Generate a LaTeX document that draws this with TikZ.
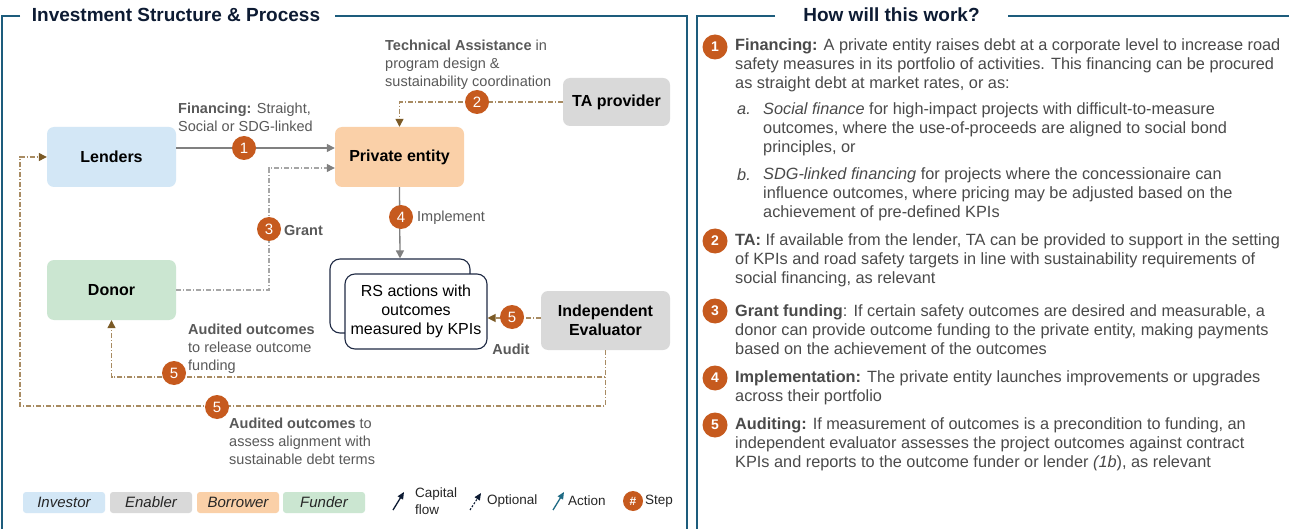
\documentclass[tikz,border=0pt]{standalone}
\usepackage{fontspec}
\setmainfont{Liberation Sans}
\usetikzlibrary{arrows.meta,calc}
\definecolor{framec}{HTML}{1D5C7C}
\definecolor{navy}{HTML}{0D1B33}
\definecolor{txt}{HTML}{595959}
\definecolor{rtxt}{HTML}{4A4A4A}
\definecolor{stepc}{HTML}{C65A1E}
\definecolor{blueb}{HTML}{D3E7F6}
\definecolor{peach}{HTML}{FAD0A8}
\definecolor{greyb}{HTML}{D9D9D9}
\definecolor{greenb}{HTML}{CBE6D1}
\definecolor{tanl}{HTML}{A88B62}
\definecolor{tana}{HTML}{7B5A26}
\definecolor{conn}{HTML}{808080}
\definecolor{optg}{HTML}{A6A6A6}
\definecolor{tealc}{HTML}{1F6B85}
\definecolor{boxline}{HTML}{1F2A44}
\definecolor{legt}{HTML}{262626}
\tikzset{
  box/.style={rounded corners=7pt, minimum width=129pt, minimum height=60pt, inner sep=2pt,
    align=center, font=\bfseries\fontsize{16}{19}\selectfont, text=black},
  rsbox/.style={rounded corners=10pt, draw=boxline, line width=1.1pt, fill=white},
  stepnum/.style={circle, fill=stepc, text=white, inner sep=0pt, minimum size=24pt,
    font=\fontsize{15}{15}\selectfont},
  rstep/.style={circle, fill=stepc, text=white, inner sep=0pt, minimum size=25pt,
    font=\bfseries\fontsize{14}{14}\selectfont},
  lbl/.style={inner sep=0pt, align=left, text=txt, font=\fontsize{14.5}{18}\selectfont},
  rpar/.style={inner sep=0pt, align=left, text=rtxt, font=\fontsize{16.3}{19}\selectfont, anchor=west},
  capline/.style={draw=conn, line width=1.3pt, -{Triangle[length=8pt,width=8pt]}},
  optline/.style={draw=tanl, line width=1.2pt, dash pattern=on 5pt off 2pt on 1pt off 2pt,
    -{Triangle[length=8pt,width=8pt,color=tana]}},
  optgrey/.style={draw=optg, line width=1.2pt, dash pattern=on 5pt off 2pt on 1pt off 2pt,
    -{Triangle[length=8pt,width=8pt,color=conn]}},
  legbox/.style={rounded corners=3pt, minimum width=82pt, minimum height=21pt, inner sep=0pt,
    font=\itshape\fontsize{15}{15}\selectfont, text=legt},
  legtxt/.style={inner sep=0pt, anchor=west, align=left, text=legt, font=\fontsize{13.5}{17}\selectfont},
  frameline/.style={draw=framec, line width=2pt},
  ttl/.style={font=\bfseries\fontsize{19}{19}\selectfont, text=navy, inner sep=0pt}
}
\begin{document}
\begin{tikzpicture}[x=1pt,y=-1pt]
\useasboundingbox (0,0) rectangle (1289,529);
\fill[white] (0,0) rectangle (1289,529);

% ---------- frames ----------
\draw[frameline] (20,16) -- (2,16) -- (2,530);
\draw[frameline] (335,16) -- (687,16) -- (687,530);
\node[ttl] (ttlL) at (176,15) {Investment Structure \& Process};
\draw[frameline] (775,16) -- (697,16) -- (697,530);
\draw[frameline] (1008,16) -- (1290,16);
\node[ttl] (ttlR) at (891.5,15) {How will this work?};

% ---------- main nodes ----------
\node[box, fill=blueb] (lenders) at (111.5,157) {Lenders};
\node[box, fill=peach] (private) at (399.5,157) {Private entity};
\node[box, fill=greyb, minimum width=107pt, minimum height=48pt] (ta) at (616.5,102) {TA provider};
\node[box, fill=greenb] (donor) at (111.5,290) {Donor};
\node[box, fill=greyb, minimum height=59pt] (eval) at (605.5,320.5) {Independent\\Evaluator};
\node[rsbox, minimum width=140pt, minimum height=74pt] (rsback) at (400,296) {};
\node[rsbox, minimum width=142pt, minimum height=75pt, align=center, inner sep=0pt,
  font=\fontsize{16}{19}\selectfont] (rsfront) at (416,311.5) {RS actions with\\outcomes\\measured by KPIs};

% ---------- connectors ----------
% 1 financing
\draw[capline] ([yshift=9pt]lenders.east) -- ([yshift=9pt]private.west);
\node[stepnum] (s1) at (244,148) {1};
\node[lbl, anchor=west] (l1) at (178,117) {\textbf{Financing:} Straight,\\Social or SDG-linked};
% 2 TA
\draw[optline] (ta.west) -| (private.north);
\node[stepnum] (s2) at (477,102) {2};
\node[lbl, anchor=west] (l2) at (385,64.5) {\textbf{Technical Assistance} in\\program design \&\\sustainability coordination};
% 3 grant
\coordinate (gx) at (269,229);
\draw[optgrey] (donor.east) -| (gx) |- ([yshift=-11pt]private.west);
\node[stepnum] (s3) at (269,229) {3};
\node[lbl, anchor=west, font=\bfseries\fontsize{14.5}{18}\selectfont] (l3) at (284,231) {Grant};
% 4 implement
\draw[capline] (private.south) -- (rsback.north);
\node[stepnum] (s4) at (401,217) {4};
\node[lbl, anchor=west] (l4) at (417,218) {Implement};
% 5 audit
\draw[optline] ([yshift=2.5pt]eval.west) -- ([yshift=2.5pt]eval.west -| rsfront.east);
\node[stepnum] (s5a) at (512,317) {5};
\node[lbl, font=\bfseries\fontsize{14.5}{18}\selectfont] (l5a) at (511,349) {Audit};
% 5 to donor
\coordinate (dn) at (300,377);
\draw[optline] (eval.south) |- (dn) -| (donor.south);
\node[stepnum] (s5b) at (174,373) {5};
\node[lbl, anchor=west] (l5b) at (188,349) {\textbf{Audited outcomes}\\to release outcome\\funding};
% 5 to lenders
\coordinate (ln) at (300,406);
\coordinate (lx) at (20,300);
\draw[optline] (eval.south) |- (ln) -| (lx) |- (lenders.west);
\node[stepnum] (s5c) at (217,407) {5};
\node[lbl, anchor=west] (l5c) at (229,441) {\textbf{Audited outcomes} to\\assess alignment with\\sustainable debt terms};

% ---------- legend ----------
\node[legbox, fill=blueb] (lg1) at (64,502.5) {Investor};
\node[legbox, fill=greyb] (lg2) at (151,502.5) {Enabler};
\node[legbox, fill=peach] (lg3) at (238,502.5) {Borrower};
\node[legbox, fill=greenb] (lg4) at (324,502.5) {Funder};
\coordinate (ca1) at (393,510); \coordinate (ca2) at (404,492);
\draw[navy, line width=1.3pt, -{Triangle[length=7pt,width=6pt]}] (ca1) -- (ca2);
\node[legtxt] (lt1) at (415,501.5) {Capital\\flow};
\coordinate (oa1) at (470,510); \coordinate (oa2) at (481,493);
\draw[navy, line width=1.1pt, dash pattern=on 2pt off 1.5pt, -{Triangle[length=7pt,width=6pt]}] (oa1) -- (oa2);
\node[legtxt] (lt2) at (487,501) {Optional};
\coordinate (aa1) at (553,510); \coordinate (aa2) at (564,492);
\draw[tealc, line width=1.3pt, -{Triangle[length=7pt,width=6pt]}] (aa1) -- (aa2);
\node[legtxt] (lt3) at (568,501) {Action};
\node[stepnum, minimum size=20pt, font=\bfseries\fontsize{12}{12}\selectfont] (lgs) at (633,501) {\#};
\node[legtxt] (lt4) at (645,501) {Step};

% ---------- right panel ----------
\node[rstep] (r1) at (715,47) {1};
\node[rpar] (p1) at (735,65.5) {\textbf{Financing:} A private entity raises debt at a corporate level to increase road\\safety measures in its portfolio of activities. This financing can be procured\\as straight debt at market rates, or as:};
\node[rpar] (pa) at (737,110) {\textit{a.}};
\node[rpar] (pat) at (763,129) {\textit{Social finance} for high-impact projects with difficult-to-measure\\outcomes, where the use-of-proceeds are aligned to social bond\\principles, or};
\node[rpar] (pb) at (737,175) {\textit{b.}};
\node[rpar] (pbt) at (763,194) {\textit{SDG-linked financing} for projects where the concessionaire can\\influence outcomes, where pricing may be adjusted based on the\\achievement of pre-defined KPIs};
\node[rstep] (r2) at (715,241) {2};
\node[rpar] (p2) at (735,260) {\textbf{TA:} If available from the lender, TA can be provided to support in the setting\\of KPIs and road safety targets in line with sustainability requirements of\\social financing, as relevant};
\node[rstep] (r3) at (715,311) {3};
\node[rpar] (p3) at (735,329.5) {\textbf{Grant funding}: If certain safety outcomes are desired and measurable, a\\donor can provide outcome funding to the private entity, making payments\\based on the achievement of the outcomes};
\node[rstep] (r4) at (715,378) {4};
\node[rpar] (p4) at (735,387.5) {\textbf{Implementation:} The private entity launches improvements or upgrades\\across their portfolio};
\node[rstep] (r5) at (715,425) {5};
\node[rpar] (p5) at (735,444.5) {\textbf{Auditing:} If measurement of outcomes is a precondition to funding, an\\independent evaluator assesses the project outcomes against contract\\KPIs and reports to the outcome funder or lender \textit{(1b}), as relevant};
\end{tikzpicture}
\end{document}
